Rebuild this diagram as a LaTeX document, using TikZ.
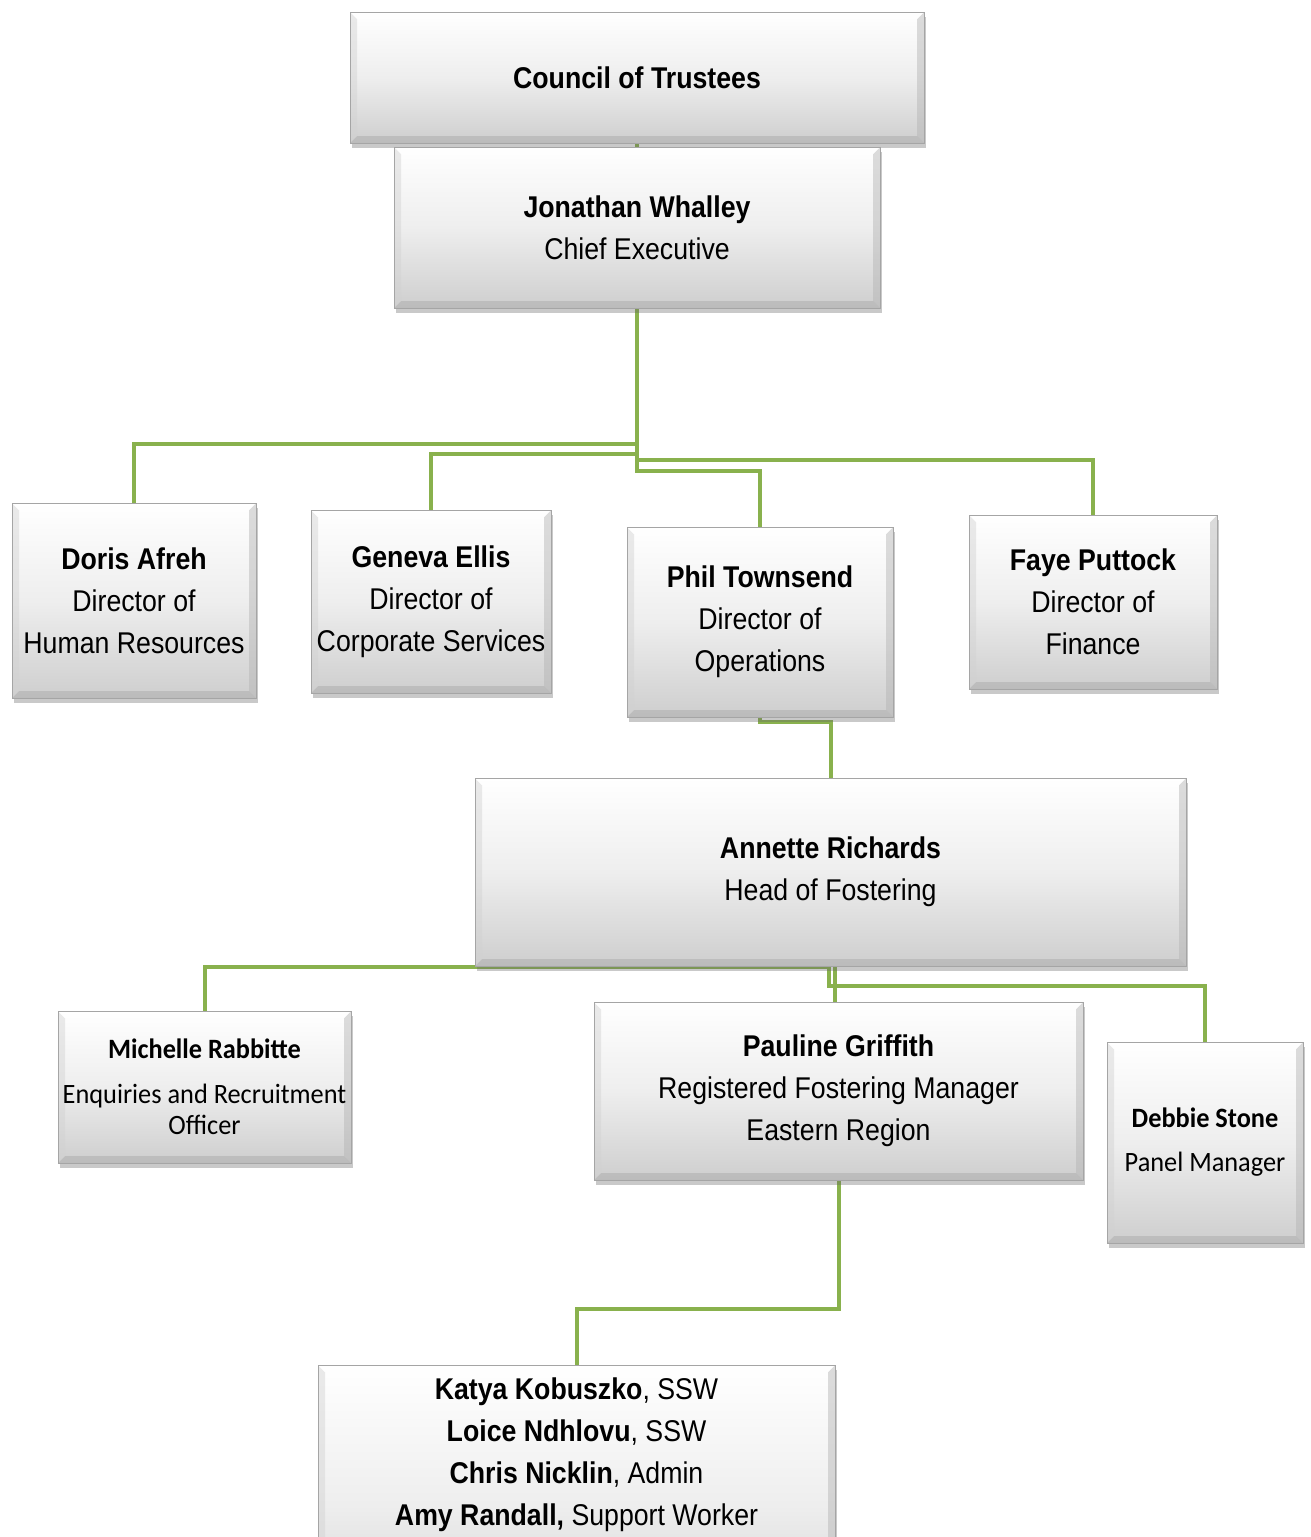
\documentclass[tikz,border=0pt]{standalone}
\usepackage{fontspec}
\setmainfont{Liberation Sans}[FakeStretch=0.89]
\newfontfamily\calib{Carlito}[FakeStretch=0.94]
\usetikzlibrary{shadows}
\pgfdeclarelayer{bg}
\pgfsetlayers{bg,main}
\definecolor{lnk}{RGB}{137,177,77}
\definecolor{boxbot}{RGB}{206,206,206}
\definecolor{boxmid}{RGB}{238,238,238}
\definecolor{boxedge}{RGB}{165,165,165}
\tikzset{
  box/.style={rectangle, draw=boxedge, line width=1pt,
    top color=white, bottom color=boxbot, middle color=boxmid,
    drop shadow={shadow xshift=2pt, shadow yshift=-5pt, opacity=0.35, fill=black!60},
    align=center, inner sep=0pt,
    font=\fontsize{30}{42}\selectfont,
    path picture={
      \fill[black!35,opacity=.45] (path picture bounding box.south west) -- (path picture bounding box.south east)
        -- ([shift={(-7pt,7pt)}]path picture bounding box.south east) -- ([shift={(7pt,7pt)}]path picture bounding box.south west) -- cycle;
      \fill[black!30,opacity=.45] (path picture bounding box.south east) -- (path picture bounding box.north east)
        -- ([shift={(-7pt,-7pt)}]path picture bounding box.north east) -- ([shift={(-7pt,7pt)}]path picture bounding box.south east) -- cycle;
      \fill[black!18,opacity=.45] (path picture bounding box.south west) -- (path picture bounding box.north west)
        -- ([shift={(7pt,-7pt)}]path picture bounding box.north west) -- ([shift={(7pt,7pt)}]path picture bounding box.south west) -- cycle;
      \fill[white,opacity=.8] (path picture bounding box.north west) -- (path picture bounding box.north east)
        -- ([shift={(-7pt,-7pt)}]path picture bounding box.north east) -- ([shift={(7pt,-7pt)}]path picture bounding box.north west) -- cycle;
    }},
  cbox/.style={box, font=\calib\fontsize{28}{31}\selectfont},
  link/.style={draw=lnk, line width=4pt},
}
\begin{document}
\begin{tikzpicture}[x=1pt,y=-1pt]
\useasboundingbox (0,0) rectangle (1311,1537);
\begin{pgfonlayer}{bg}
  \fill[white] (0,0) rectangle (1311,1537);
\end{pgfonlayer}

\node[box, minimum width=574pt, minimum height=131pt] (council) at (637,77.5) {\textbf{Council of Trustees}};
\node[box, minimum width=486pt, minimum height=161pt] (jw) at (637,227.5) {\textbf{Jonathan Whalley}\\Chief Executive};
\node[box, minimum width=244pt, minimum height=195pt] (doris) at (134,600.5) {\textbf{Doris Afreh}\\Director of\\Human Resources};
\node[box, minimum width=240pt, minimum height=183pt] (geneva) at (431,601.5) {\textbf{Geneva Ellis}\\Director of\\Corporate Services};
\node[box, minimum width=266pt, minimum height=190pt] (phil) at (760,622) {\textbf{Phil Townsend}\\Director of\\Operations};
\node[box, minimum width=248pt, minimum height=174pt] (faye) at (1093,602) {\textbf{Faye Puttock}\\Director of\\Finance};
\node[box, minimum width=711pt, minimum height=188pt] (annette) at (830.5,872) {\textbf{Annette Richards}\\Head of Fostering};
\node[cbox, minimum width=293pt, minimum height=152pt] (michelle) at (204.5,1087) {\textbf{Michelle Rabbitte}\\[14pt]Enquiries and Recruitment\\Officer};
\node[box, minimum width=489pt, minimum height=178pt] (pauline) at (838.5,1091) {\textbf{Pauline Griffith}\\Registered Fostering Manager\\Eastern Region};
\node[cbox, minimum width=196pt, minimum height=201pt] (debbie) at (1205,1142.5) {\textbf{Debbie Stone}\\[13pt]Panel Manager};
\node[box, minimum width=517pt, minimum height=280pt] (team) at (576.5,1505) {\textbf{Katya Kobuszko}, SSW\\\textbf{Loice Ndhlovu}, SSW\\\textbf{Chris Nicklin}, Admin\\\textbf{Amy Randall,} Support Worker\\[64pt]\mbox{}};

\begin{pgfonlayer}{bg}
  \draw[link] (council.south) -- (jw.north);
  \draw[link] (jw.south) -- ++(0,135) -| (doris.north);
  \draw[link] (jw.south) -- ++(0,145) -| (geneva.north);
  \draw[link] (jw.south) -- ++(0,151) -| (faye.north);
  \draw[link] (jw.south) -- ++(0,162) -| (phil.north);
  \draw[link] (phil.south) -- ++(0,4) -| (annette.north);
  \draw[link] (annette.south) -| (michelle.north);
  \draw[link] ([xshift=-2pt]annette.south) -- ++(0,19) -| (debbie.north);
  \draw[link] ([xshift=4pt]annette.south) -- ([xshift=-4pt]pauline.north);
  \draw[link] (pauline.south) -- ++(0,128) -| (team.north);
\end{pgfonlayer}
\end{tikzpicture}
\end{document}
